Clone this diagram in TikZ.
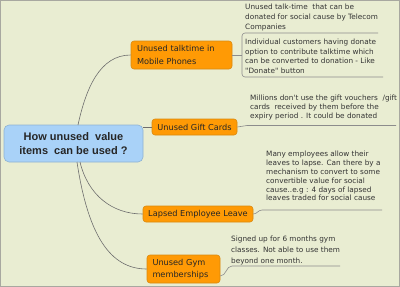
\documentclass[tikz,border=0pt]{standalone}
\usepackage{fontspec}
\setmainfont{Liberation Sans}
\newfontfamily\notefont{DejaVu Sans}
\definecolor{bgc}{HTML}{E9EDD2}
\definecolor{framec}{HTML}{A8A8A0}
\definecolor{orangefill}{HTML}{FF9A05}
\definecolor{orangeedge}{HTML}{D98A10}
\definecolor{bluefill}{HTML}{A9D2F8}
\definecolor{blueedge}{HTML}{8FB2D2}
\definecolor{mainline}{HTML}{6E6E6E}
\definecolor{noteline}{HTML}{8C8C8C}
\definecolor{notetext}{HTML}{333333}
\tikzset{
  topicbox/.style={draw=orangeedge, fill=orangefill, rounded corners=3pt, line width=0.6pt,
    inner sep=0pt, font=\notefont\fontsize{8.2}{12.5}\selectfont, text=black!85},
  centralbox/.style={draw=blueedge, fill=bluefill, rounded corners=5pt, line width=0.6pt,
    inner sep=0pt, align=center, font=\fontsize{11}{13.5}\selectfont\bfseries, text=black!85},
  notetxt/.style={anchor=north west, inner sep=0pt, align=left, text=notetext},
  mainconn/.style={draw=mainline, line width=0.6pt},
  noteconn/.style={draw=noteline, line width=0.6pt},
}
\begin{document}
\begin{tikzpicture}[x=1pt,y=-1pt]
\fill[bgc] (0,0) rectangle (400,287);
\useasboundingbox (0,0) rectangle (400,287);
\draw[framec, line width=1pt] (0.5,0.5) rectangle (399.5,286.5);

% central
\node[centralbox, minimum width=139pt, minimum height=37pt] (c) at (73.5,143.5)
  {How unused\ \ value\\items\ \ can be used ?};

% topics
\node[topicbox, minimum width=101pt, minimum height=28pt, align=left, text width=89pt] (talk) at (181.5,55)
  {Unused talktime in\\Mobile Phones};
\node[topicbox, minimum width=85pt, minimum height=16pt] (gift) at (194.5,127) {Unused Gift Cards};
\node[topicbox, minimum width=110pt, minimum height=16pt] (leave) at (198,214) {Lapsed Employee Leave};
\node[topicbox, minimum width=73pt, minimum height=28pt, align=left, text width=62pt] (gym) at (183.5,269)
  {Unused Gym\\memberships};

% main connectors
\coordinate (ctop) at (78,125);
\coordinate (cb1) at (80,162);
\coordinate (cb2) at (77,162);
\draw[mainconn] (ctop) .. controls (86,88) and (100,55) .. (talk.west);
\draw[mainconn] (c.east |- gift.west) -- (gift.west);
\draw[mainconn] (cb1) .. controls (88,195) and (112,214) .. (leave.west);
\draw[mainconn] (cb2) .. controls (88,235) and (110,269) .. (gym.west);

% notes
\node[notetxt, font=\notefont\fontsize{7.3}{10}\selectfont] (n1) at (245,4)
  {Unused talk-time\ \ that can be\\donated for social cause by Telecom\\Companies};
\node[notetxt, font=\notefont\fontsize{7.3}{9.5}\selectfont] (n2) at (245,39.2)
  {Individual customers having donate\\option to contribute talktime which\\can be converted to donation - Like\\"Donate" button};
\node[notetxt, font=\notefont\fontsize{7.3}{9}\selectfont] (n3) at (250,95.2)
  {Millions don't use the gift vouchers\ \ /gift\\cards\ \ received by them before the\\expiry period . It could be donated};
\node[notetxt, font=\notefont\fontsize{7.3}{8.8}\selectfont] (n4) at (266,151.2)
  {Many employees allow their\\leaves to lapse. Can there by a\\mechanism to convert to some\\convertible value for social\\cause..e.g : 4 days of lapsed\\leaves traded for social cause};
\node[notetxt, font=\notefont\fontsize{7.3}{11}\selectfont] (n5) at (231,236.2)
  {Signed up for 6 months gym\\classes. Not able to use them\\beyond one month.};

% note connectors
\coordinate (brk) at (242,55);
\coordinate (b1) at (378,33);
\coordinate (b2) at (383,77);
\draw[noteconn] (talk.east) -- (brk);
\draw[noteconn, rounded corners=3pt] (b1) -- (242,33) -- (242,77) -- (b2);

\coordinate (g1) at (247,125.5);
\coordinate (g2) at (396,125.5);
\draw[noteconn] (gift.east) to[out=0,in=180] (g1) -- (g2);

\coordinate (l1) at (262,210);
\coordinate (l2) at (382,210);
\draw[noteconn] (leave.east) to[out=0,in=180] (l1) -- (l2);

\coordinate (y0) at (gym.east |- 0,276);
\coordinate (y1) at (232,266);
\coordinate (y2) at (340,266);
\draw[noteconn] (y0) to[out=0,in=180] (y1) -- (y2);
\end{tikzpicture}
\end{document}
